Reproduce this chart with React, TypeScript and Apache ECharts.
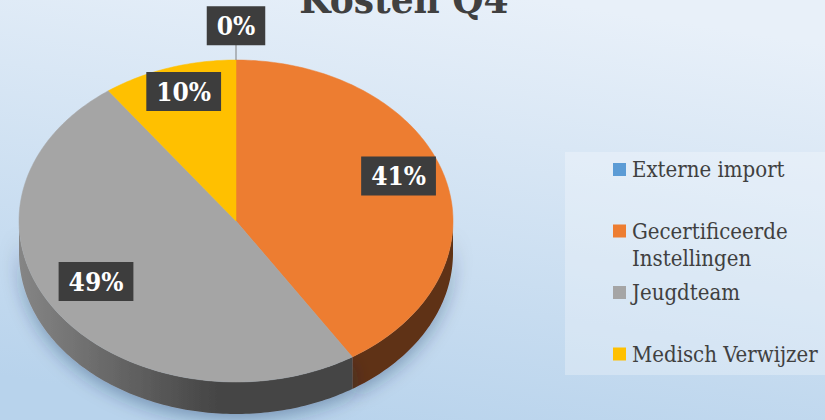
import React, { useEffect, useRef } from "react";
import * as echarts from "echarts";

const titleText = "Kosten Q4";
const categories = ["Externe import", "Gecertificeerde Instellingen", "Jeugdteam", "Medisch Verwijzer"];
const values = [0, 41, 49, 10];
const colors = ["#5b9bd5", "#ed7d31", "#a5a5a5", "#ffc000"];
const sideColors = ["#2f5d87", "#5e3212", "#454545", "#8a6b00"];

const SERIF = '"DejaVu Serif Condensed", "DejaVu Serif", serif';

export default function App() {
  const ref = useRef<HTMLDivElement>(null);
  useEffect(() => {
    if (!ref.current) return;
    const chart = echarts.init(ref.current, undefined, { renderer: "svg" });
    const total = values.reduce((a, b) => a + b, 0);
    const cum: number[] = [];
    let acc = 0;
    values.forEach((v) => { cum.push(acc); acc += v; });

    const cx = 236, cy = 221, rx = 217, ry = 161, depth = 32;
    const pt = (deg: number, dy = 0) => {
      const t = (deg * Math.PI) / 180;
      return [cx + rx * Math.sin(t), cy - ry * Math.cos(t) + dy];
    };
    const arc = (a: number, b: number, dy = 0) => {
      const pts: number[][] = [];
      const n = Math.max(2, Math.ceil(Math.abs(b - a)));
      for (let k = 0; k <= n; k++) pts.push(pt(a + ((b - a) * k) / n, dy));
      return pts;
    };

    const renderItem = (params: any, api: any) => {
      const i = params.dataIndex;
      const v = api.value(0);
      const start = (cum[i] / total) * 360;
      const end = start + (v / total) * 360;
      const children: any[] = [];
      const s0 = Math.max(start, 90), s1 = Math.min(end, 270);
      if (s1 > s0) {
        const top = arc(s0, s1);
        const bot = arc(s1, s0, depth);
        const fill = i === 2
          ? new echarts.graphic.LinearGradient(20, 0, 220, 0, [
              { offset: 0, color: "#858585" },
              { offset: 1, color: "#444444" },
            ], true)
          : sideColors[i];
        children.push({
          type: "polygon",
          z2: 1,
          shape: { points: top.concat(bot) },
          style: { fill, shadowBlur: 18, shadowColor: "rgba(0,40,80,0.35)", shadowOffsetY: 6 },
        });
      }
      if (end > start) {
        children.push({
          type: "polygon",
          z2: 5,
          shape: { points: [[cx, cy]].concat(arc(start, end)) },
          style: { fill: colors[i], stroke: colors[i], lineWidth: 0.5 },
        });
      }
      const mid = (start + end) / 2;
      const pct = Math.round((v / total) * 100) + "%";
      const small = v / total < 0.02;
      const f = small ? 1.15 : 0.78;
      const t = (mid * Math.PI) / 180;
      const lx = cx + rx * f * Math.sin(t);
      const ly = cy - ry * f * Math.cos(t) - 10;
      if (small) {
        const edge = pt(mid);
        children.push({
          type: "line",
          z2: 20,
          shape: { x1: edge[0], y1: edge[1], x2: lx, y2: ly + 18 },
          style: { stroke: "#7f7f7f", lineWidth: 1 },
        });
      }
      children.push({
        type: "text",
        z2: 30,
        style: {
          text: pct,
          x: lx,
          y: ly,
          align: "center",
          verticalAlign: "middle",
          fill: "#ffffff",
          font: `bold 26px ${SERIF}`,
          lineHeight: 28,
          backgroundColor: "#3d3d3d",
          padding: [6, 10, 5, 10],
          boxShadowBlur: 6,
          boxShadowColor: "rgba(0,0,0,0.45)",
          boxShadowOffsetX: 3,
          boxShadowOffsetY: 3,
        },
      });
      return { type: "group", children };
    };

    const legendCenters = [169.5, 231, 292.5, 354];
    const legendGraphics: any[] = [
      {
        type: "rect",
        shape: { x: 565, y: 152, width: 260, height: 223 },
        style: { fill: "rgba(255,255,255,0.28)" },
        z: 1,
      },
    ];
    categories.forEach((c, i) => {
      const yc = legendCenters[i];
      legendGraphics.push({
        type: "rect",
        shape: { x: 613, y: yc - 6.5, width: 13, height: 13 },
        style: { fill: colors[i] },
        z: 2,
      });
      legendGraphics.push({
        type: "text",
        style: {
          text: c.length > 20 ? c.replace(" ", "\n") : c,
          x: 632,
          y: yc - 13.5,
          align: "left",
          verticalAlign: "top",
          fill: "#404040",
          font: `22px ${SERIF}`,
          lineHeight: 27,
        },
        z: 2,
      });
    });

    chart.setOption({
      animation: false,
      backgroundColor: {
        type: "linear",
        x: 0.65, y: 0, x2: 0.35, y2: 1,
        colorStops: [
          { offset: 0, color: "#e8f0f9" },
          { offset: 1, color: "#b8d3ec" },
        ],
      },
      graphic: [
        {
          type: "text",
          style: {
            text: titleText,
            x: 404,
            y: -2,
            align: "center",
            verticalAlign: "middle",
            fill: "#404040",
            font: `bold 40px ${SERIF}`,
          },
          z: 5,
        },
        ...legendGraphics,
      ],
      series: [
        {
          type: "custom",
          coordinateSystem: "none",
          name: "Kosten",
          data: values.map((v) => [v]),
          renderItem,
        },
      ],
    });
    return () => chart.dispose();
  }, []);
  return (
    <div
      ref={ref}
      style={{ position: "absolute", left: 0, top: 0, width: 825, height: 420 }}
    />
  );
}
